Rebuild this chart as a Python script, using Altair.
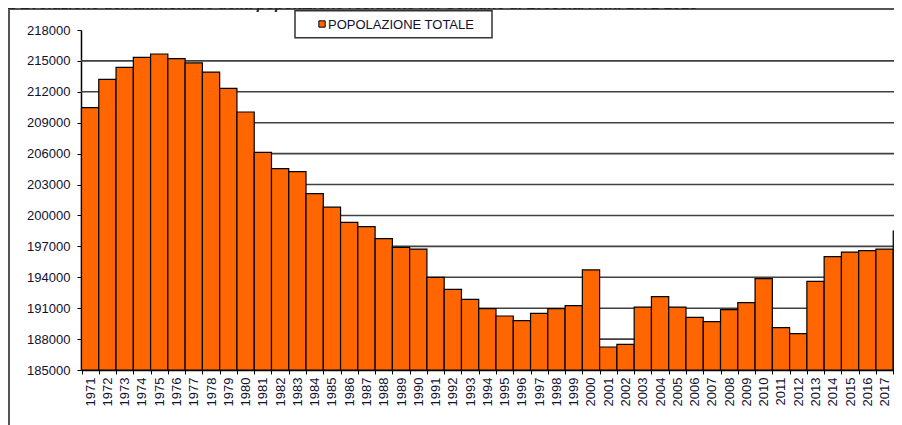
import altair as alt
import pandas as pd

# ---------------- data ----------------
years = ["1971", "1972", "1973", "1974", "1975", "1976", "1977", "1978", "1979", "1980",
         "1981", "1982", "1983", "1984", "1985", "1986", "1987", "1988", "1989", "1990",
         "1991", "1992", "1993", "1994", "1995", "1996", "1997", "1998", "1999", "2000",
         "2001", "2002", "2003", "2004", "2005", "2006", "2007", "2008", "2009", "2010",
         "2011", "2012", "2013", "2014", "2015", "2016", "2017", "2018"]

population = [210460, 213200, 214380, 215350, 215670, 215220, 214800, 213920, 212340, 210040,
              206130, 204540, 204250, 202110, 200800, 199330, 198910, 197750, 196900, 196740,
              193990, 192830, 191860, 190950, 190240, 189790, 190500, 190950, 191240, 194710,
              187230, 187490, 191110, 192120, 191110, 190110, 189690, 190860, 191540, 193860,
              189110, 188530, 193610, 196000, 196450, 196580, 196740, 198490]

y_ticks = [185000, 188000, 191000, 194000, 197000, 200000, 203000, 206000, 209000,
           212000, 215000, 218000]
grid_values = [188000, 191000, 194000, 197000, 200000, 203000, 206000, 209000, 212000, 215000]

series_name = "POPOLAZIONE TOTALE"
title_text = "2 Evoluzione dell'ammontare della popolazione residente nel Comune di Brescia. Anni 1971-2018"

# ---------------- style ----------------
BAR = "#FF6600"
TXT = "#101030"
GRID = "#404040"
FONT = "Liberation Sans"
W, H = 813, 340

df = pd.DataFrame({"anno": years, "pop": population, "base": [185000] * len(years)})
gdf = pd.DataFrame({"g": grid_values})

yscale = alt.Scale(domain=[185000, 218000], zero=False, nice=False)
xscale = alt.Scale(domain=years, range=[0.5, 829.5], paddingInner=0, paddingOuter=0)

y_axis = alt.Axis(values=y_ticks, format="d", tickSize=4, labelPadding=7, grid=False,
                  domainColor="#000000", domainWidth=1.5, tickColor="#000000",
                  labelFont=FONT, labelFontSize=13, labelColor=TXT)

grid = alt.Chart(gdf).mark_rule(color=GRID, strokeWidth=1.6).encode(
    y=alt.Y("g:Q", scale=yscale, axis=y_axis, title=None),
    x=alt.value(0),
    x2=alt.value(821),
)

bars = alt.Chart(df).mark_bar(color=BAR, stroke="#000000", strokeWidth=1.2, clip=False).encode(
    x=alt.X("anno:N", scale=xscale, sort=years, title=None,
            axis=alt.Axis(labelAngle=270, tickBand="extent", tickSize=4, labelPadding=3,
                          domainColor="#000000", domainWidth=1.5, tickColor="#000000",
                          labelFont=FONT, labelFontSize=13, labelColor=TXT, labelOverlap=False)),
    y=alt.Y("pop:Q", scale=yscale, title=None, axis=y_axis),
    y2="base:Q",
)

one = pd.DataFrame({"k": [0]})

frame_left = alt.Chart(one).mark_rule(color="#555555", strokeWidth=2).encode(
    x=alt.value(-72), y=alt.value(-21), y2=alt.value(H + 55))
frame_top = alt.Chart(one).mark_rule(color="#555555", strokeWidth=2).encode(
    x=alt.value(-73), x2=alt.value(821), y=alt.value(-21))

title = alt.Chart(one).mark_text(text=title_text, align="left", baseline="alphabetic",
                                 font=FONT, fontSize=15, fontWeight="bold", fontStyle="italic",
                                 color="#222222").encode(x=alt.value(-73), y=alt.value(-21.5))

legend_box = alt.Chart(one).mark_rect(fill="#ffffff", stroke="#333333", strokeWidth=1.5).encode(
    x=alt.value(214), x2=alt.value(411), y=alt.value(-19.3), y2=alt.value(7.7))
legend_sym = alt.Chart(one).mark_square(size=40, fill=BAR, stroke="#000000", strokeWidth=1,
                                        opacity=1).encode(x=alt.value(241), y=alt.value(-6))
legend_txt = alt.Chart(one).mark_text(text=series_name, align="left", baseline="middle",
                                      font=FONT, fontSize=13, color=TXT).encode(
    x=alt.value(247), y=alt.value(-5.5))

chart = alt.layer(grid, bars, frame_left, frame_top, title, legend_box, legend_sym, legend_txt).properties(
    width=W, height=H,
    autosize=alt.AutoSizeParams(type="none"),
    padding={"left": 73, "top": 22, "right": 0, "bottom": 55},
    background="#ffffff",
).configure_view(stroke=None)

chart.save("out.html", embed_options={"renderer": "svg", "actions": False})
